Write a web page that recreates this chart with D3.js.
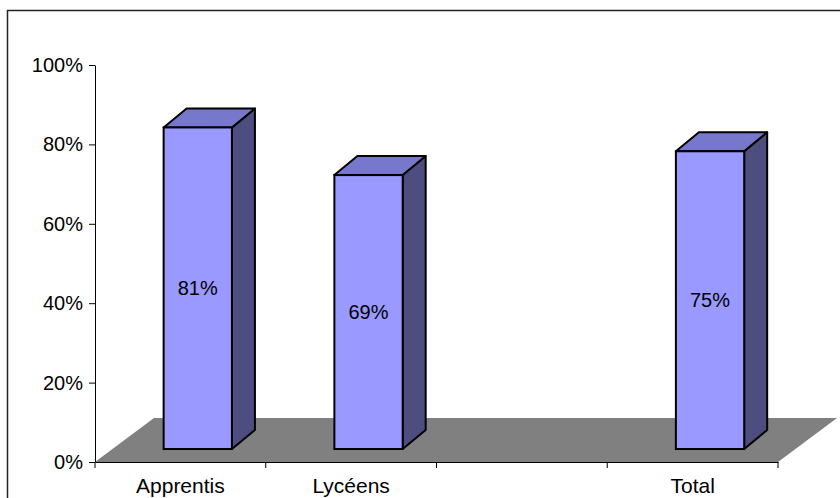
<!DOCTYPE html>
<html>
<head>
<meta charset="utf-8">
<script src="https://cdn.jsdelivr.net/npm/d3@7"></script>
<style>
  body { margin: 0; background: #fff; }
  svg { display: block; }
  text { font-family: Arial, "Liberation Sans", sans-serif; }
</style>
</head>
<body>
<svg id="chart" width="840" height="498"></svg>
<script>
// data
const categories = ['Apprentis', 'Lycéens', '', 'Total']
const values = [0.81, 0.69, null, 0.75]
const yTicks = [0, 0.2, 0.4, 0.6, 0.8, 1]

const font = 'Arial, "Liberation Sans", sans-serif'
const svg = d3.select('#chart')

// outer frame of the chart area
svg.append('rect')
    .attr('x', 7.5).attr('y', 10.5)
    .attr('width', 860).attr('height', 520)
    .attr('fill', 'none').attr('stroke', '#222').attr('stroke-width', 1.5)

const x = d3.scaleBand().domain(categories).range([95, 778])
const y = d3.scaleLinear().domain([0, 1]).range([462, 65])

// depth of the floor, and of each bar
const floor = { dx: 59, dy: -44 }
const barDepth = { dx: 23, dy: -19 }
const barFrac = 0.295  // how far into the floor the bar front sits
const barWidth = x.bandwidth() * 0.40

// floor
const [x0, x1] = x.range()
svg.append('path')
    .attr('d', `M${x0},${y(0)} L${x1},${y(0)} L${x1 + floor.dx},${y(0) + floor.dy} L${x0 + floor.dx},${y(0) + floor.dy} Z`)
    .attr('fill', '#808080')

// y axis
const yAxis = svg.append('g')
    .attr('transform', `translate(${x0},0)`)
    .call(d3.axisLeft(y).tickValues(yTicks).tickFormat(d3.format('.0%')).tickSize(6).tickSizeOuter(0))
yAxis.attr('font-family', font)
yAxis.select('.domain').attr('stroke', '#000')
yAxis.selectAll('.tick line').attr('stroke', '#000')
yAxis.selectAll('.tick text').attr('font-size', 20).attr('fill', '#000').attr('x', -12)

// x axis
const xAxis = svg.append('g')
    .attr('transform', `translate(0,${y(0)})`)
    .call(d3.axisBottom(x).tickSize(0).tickSizeOuter(0))
xAxis.attr('font-family', font)
xAxis.select('.domain').attr('stroke', '#000')
xAxis.selectAll('.tick text').attr('font-size', 21).attr('fill', '#000').attr('y', 31).attr('dy', 0)
// tick marks between categories
svg.append('g').selectAll('line')
    .data(categories.map(c => x(c)).concat([x1]))
    .enter().append('line')
    .attr('x1', d => d).attr('x2', d => d)
    .attr('y1', y(0)).attr('y2', y(0) + 6)
    .attr('stroke', '#000')

// bars
const bars = categories.map((c, i) => ({ c, v: values[i] })).filter(d => d.v != null)
const offX = floor.dx * barFrac
const offY = floor.dy * barFrac
const base = y(0) + offY
const hScale = d => y(0) - y(d)

svg.append('g').selectAll('g').data(bars).enter().append('g')
    .each(function (d) {
        const gg = d3.select(this)
        const left = x(d.c) + x.bandwidth() / 2 + offX - barWidth / 2
        const right = left + barWidth
        const top = base - hScale(d.v)
        const { dx, dy } = barDepth
        // side face
        gg.append('path')
            .attr('d', `M${right},${base} L${right},${top} L${right + dx},${top + dy} L${right + dx},${base + dy} Z`)
            .attr('fill', '#4d4d80').attr('stroke', '#000').attr('stroke-width', 2).attr('stroke-linejoin', 'round')
        // top face
        gg.append('path')
            .attr('d', `M${left},${top} L${right},${top} L${right + dx},${top + dy} L${left + dx},${top + dy} Z`)
            .attr('fill', '#7777cc').attr('stroke', '#000').attr('stroke-width', 2).attr('stroke-linejoin', 'round')
        // front face
        gg.append('rect')
            .attr('x', left).attr('y', top)
            .attr('width', barWidth).attr('height', base - top)
            .attr('fill', '#9999ff').attr('stroke', '#000').attr('stroke-width', 2)
        gg.append('text')
            .attr('x', (left + right) / 2).attr('y', (top + base) / 2)
            .attr('text-anchor', 'middle').attr('dy', '0.35em')
            .attr('font-size', 20)
            .text(d3.format('.0%')(d.v))
    })
</script>
</body>
</html>
